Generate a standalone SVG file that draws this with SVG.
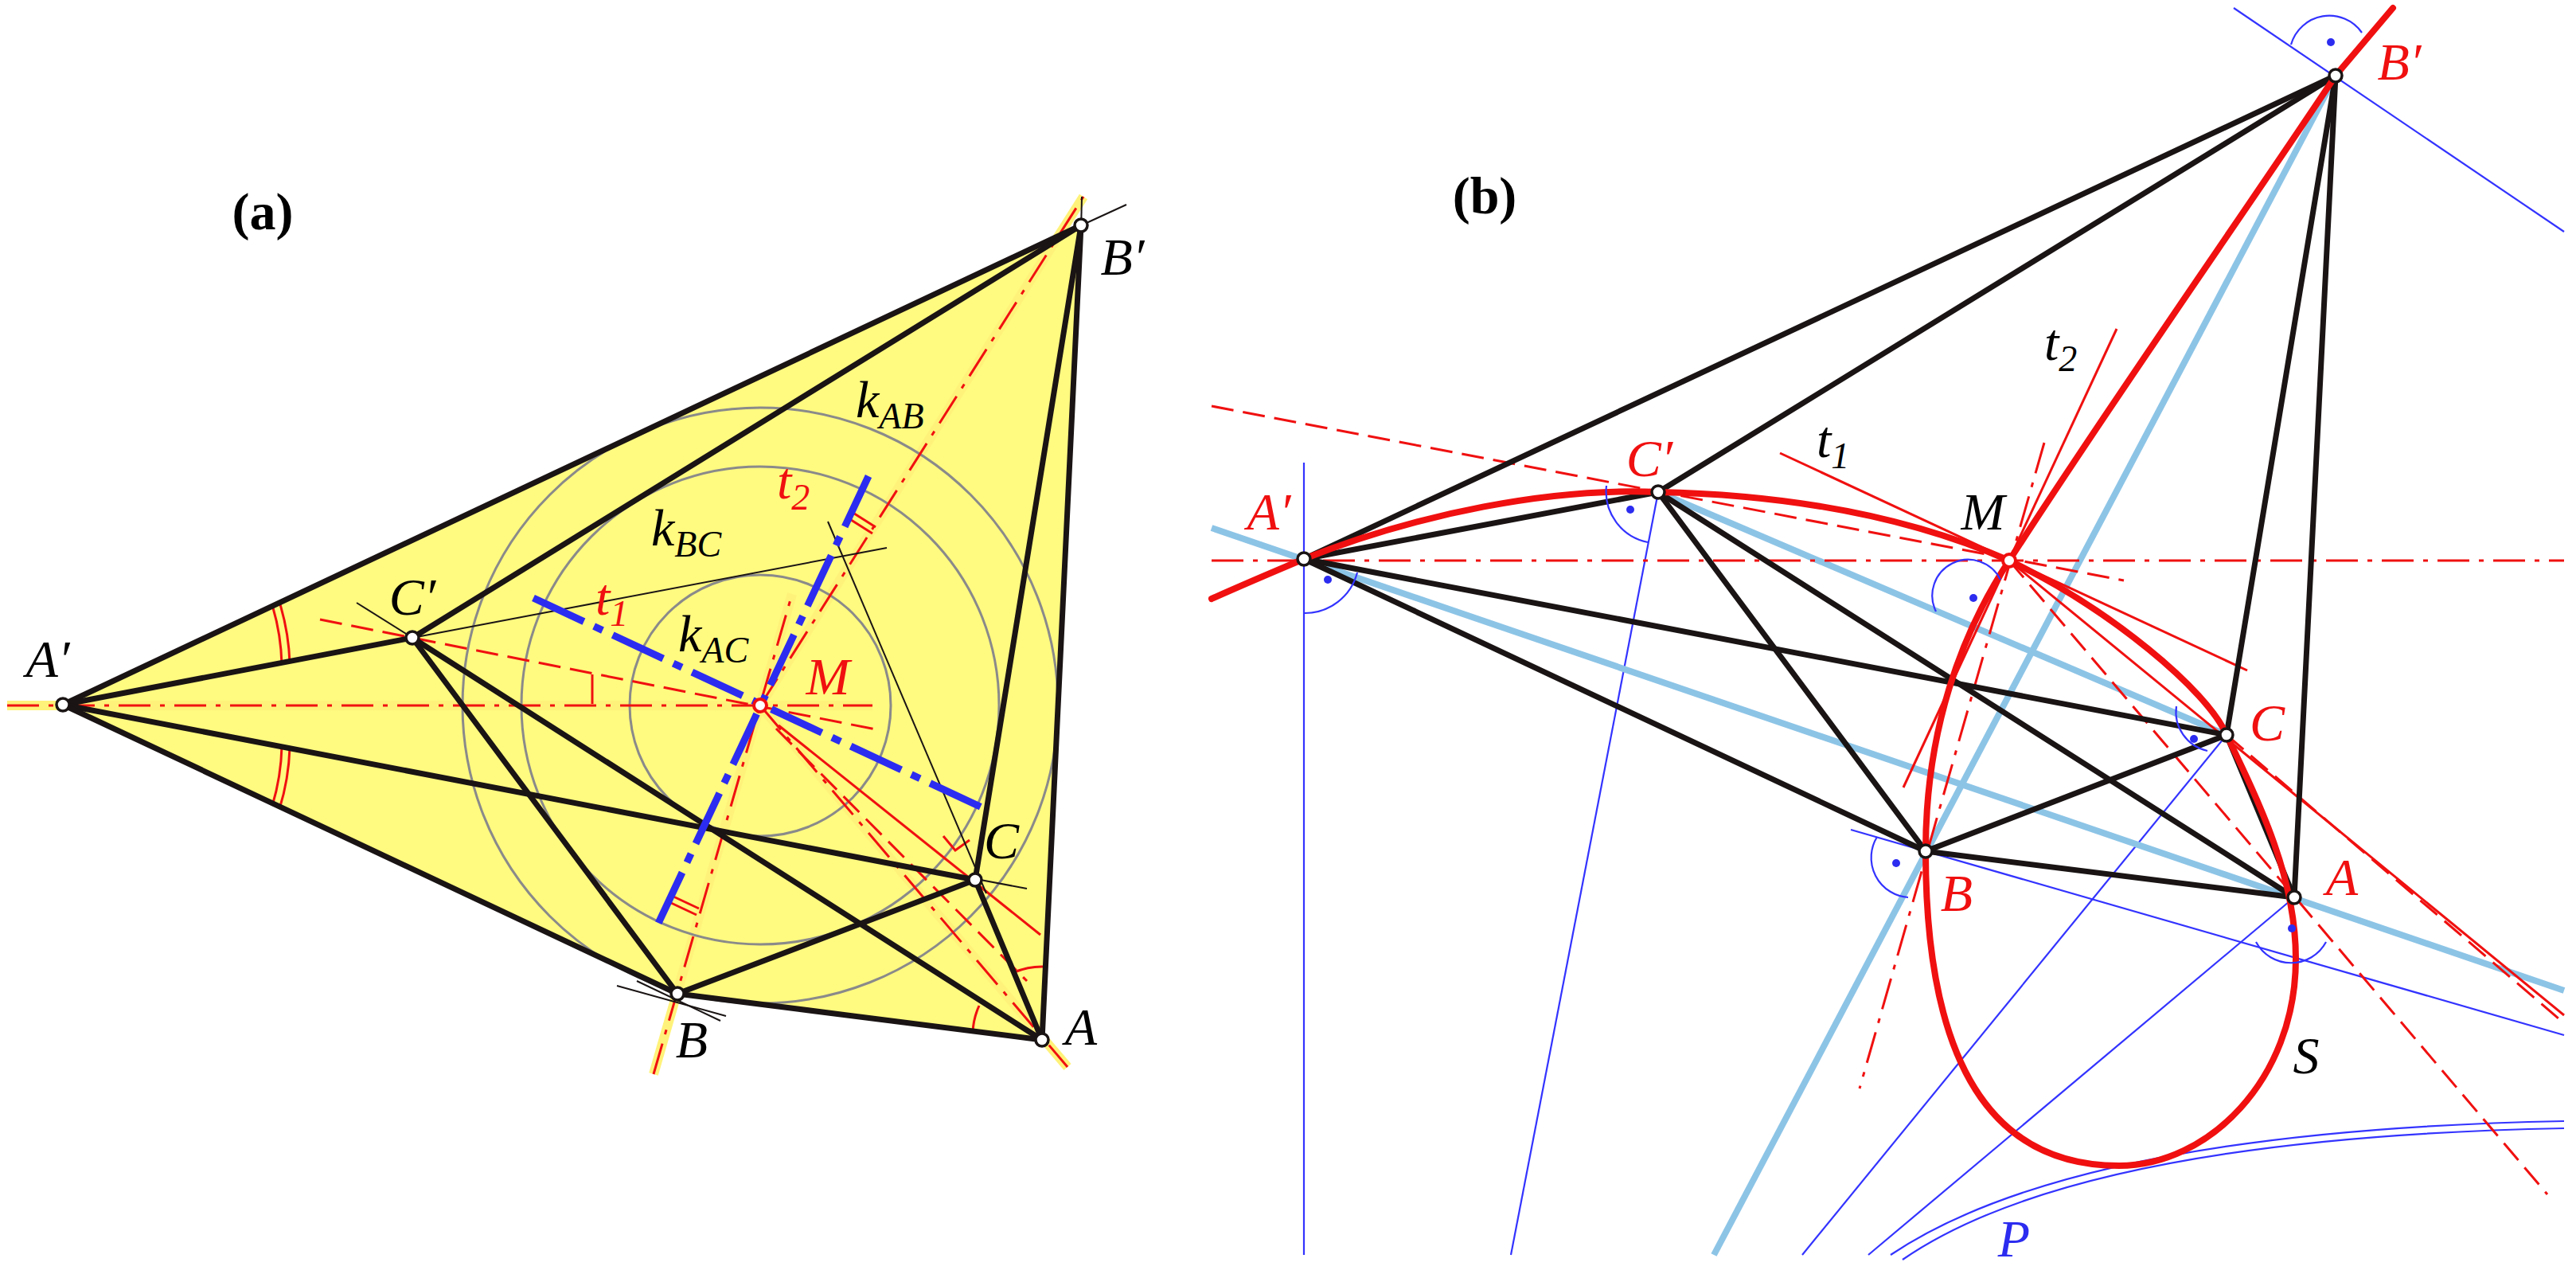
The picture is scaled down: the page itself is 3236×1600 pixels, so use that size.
<svg xmlns="http://www.w3.org/2000/svg" width="3236" height="1600" viewBox="0 0 3236 1600">
<style>
.bk{stroke:#1a1414;stroke-width:7;fill:none;stroke-linecap:round}
.tk{stroke:#1a1414;stroke-width:2;fill:none}
.gr{stroke:#8a8a8a;stroke-width:3;fill:none}
.rd{stroke:#f01010;stroke-width:3;fill:none}
.rdd{stroke:#f01010;stroke-width:3;fill:none;stroke-dasharray:40 12 6 12}
.rds{stroke:#f01010;stroke-width:3;fill:none;stroke-dasharray:28 12}
.yl{stroke:#fff27a;stroke-width:12;fill:none}
.bl{stroke:#2c2cf0;stroke-width:9;fill:none;stroke-dasharray:70 14 12 14}
.bt{stroke:#3333ff;stroke-width:2.2;fill:none}
.lb{stroke:#8cc4e6;stroke-width:8;fill:none}
.cv{stroke:#f01010;stroke-width:8;fill:none;stroke-linecap:round}
.nd{fill:#fff;stroke:#1a1414;stroke-width:3.5}
.ndm{fill:#fff;stroke:#f01010;stroke-width:4}
.dot{fill:#2c2cf0}
text{font-family:"Liberation Serif",serif;font-size:66px;font-style:italic}
.hd{font-style:normal;font-weight:bold;font-size:66px}
.r{fill:#f01010}
.b{fill:#2c2cf0}
</style>
<rect width="3236" height="1600" fill="#fff"/>
<g id="panel-a-fill"><polygon points="79,885 1358,283 1309,1306 851,1248" fill="#fffa80"/></g>
<g id="connectors-a">
<line class="yl" x1="9" y1="886" x2="1096" y2="886"/>
<line class="yl" x1="821" y1="1349" x2="995" y2="746"/>
<line class="yl" x1="955" y1="886" x2="1361" y2="247"/>
<line class="yl" x1="955" y1="886" x2="1341" y2="1340"/>
<circle class="gr" cx="955" cy="886" r="164"/>
<circle class="gr" cx="955" cy="886" r="300"/>
<circle class="gr" cx="955" cy="886" r="374"/>
<line class="rdd" x1="9" y1="886" x2="1096" y2="886"/>
<line class="rdd" x1="821" y1="1349" x2="995" y2="746"/>
<line class="rdd" x1="955" y1="886" x2="1361" y2="247"/>
<line class="rdd" x1="955" y1="886" x2="1341" y2="1340"/>
<line class="rds" x1="402" y1="778" x2="1100" y2="916"/>
<line class="rd" x1="978" y1="911" x2="1307" y2="1174"/>
<line class="rds" x1="975" y1="915" x2="1290" y2="1232"/>
<line class="rd" x1="744" y1="847" x2="744" y2="884"/>
<polyline class="rd" points="1185,1050 1200,1068 1218,1055"/>
<line class="rd" x1="1070" y1="643" x2="1100" y2="662"/>
<line class="rd" x1="1066" y1="651" x2="1096" y2="670"/>
<line class="rd" x1="846" y1="1126" x2="878" y2="1141"/>
<line class="rd" x1="843" y1="1134" x2="875" y2="1149"/>
<path class="rd" d="M342,760 A280,280 0 0 1 354,835"/>
<path class="rd" d="M351,756 A290,290 0 0 1 364,833"/>
<path class="rd" d="M354,937 A280,280 0 0 1 342,1012"/>
<path class="rd" d="M364,939 A290,290 0 0 1 351,1016"/>
<path class="rd" d="M1274,1221 A90,90 0 0 1 1313,1214"/>
<path class="rd" d="M1222,1296 A90,90 0 0 1 1230,1263"/>
<g class="bk">
<line x1="79" y1="885" x2="1358" y2="283"/>
<line x1="79" y1="885" x2="518" y2="801"/>
<line x1="518" y1="801" x2="1358" y2="283"/>
<line x1="79" y1="885" x2="1225" y2="1105"/>
<line x1="79" y1="885" x2="851" y2="1248"/>
<line x1="518" y1="801" x2="851" y2="1248"/>
<line x1="518" y1="801" x2="1309" y2="1306"/>
<line x1="851" y1="1248" x2="1225" y2="1105"/>
<line x1="851" y1="1248" x2="1309" y2="1306"/>
<line x1="1225" y1="1105" x2="1309" y2="1306"/>
<line x1="1358" y1="283" x2="1225" y2="1105"/>
<line x1="1358" y1="283" x2="1309" y2="1306"/>
</g>
<line class="tk" x1="448" y1="757" x2="590" y2="846"/>
<line class="tk" x1="518" y1="801" x2="1114" y2="688"/>
<line class="tk" x1="1040" y1="655" x2="1239" y2="1122"/>
<line class="tk" x1="1221" y1="1103" x2="1290" y2="1116"/>
<line class="tk" x1="775" y1="1238" x2="912" y2="1276"/>
<line class="tk" x1="800" y1="1232" x2="905" y2="1282"/>
<line class="tk" x1="1330" y1="296" x2="1415" y2="257"/>
<line class="tk" x1="1359" y1="247" x2="1358" y2="290"/>
<line class="bl" x1="670" y1="751" x2="1244" y2="1019"/>
<line class="bl" x1="1091" y1="598" x2="823" y2="1168"/>
</g>
<g id="nodes-a">
<circle class="nd" cx="79" cy="885" r="8"/>
<circle class="nd" cx="518" cy="801" r="8"/>
<circle class="nd" cx="1358" cy="283" r="8"/>
<circle class="nd" cx="1225" cy="1105" r="8"/>
<circle class="nd" cx="851" cy="1248" r="8"/>
<circle class="nd" cx="1309" cy="1306" r="8"/>
<circle class="ndm" cx="955" cy="886" r="8"/>
</g>
<g id="labels-a">
<text class="hd" x="330" y="288" text-anchor="middle">(a)</text>
<text x="60" y="850" text-anchor="middle">A′</text>
<text x="1410" y="345" text-anchor="middle">B′</text>
<text x="518" y="772" text-anchor="middle">C′</text>
<text x="1258" y="1078" text-anchor="middle">C</text>
<text x="869" y="1328" text-anchor="middle">B</text>
<text x="1358" y="1312" text-anchor="middle">A</text>
<text class="r" x="1040" y="872" text-anchor="middle">M</text>
<text x="1075" y="524">k<tspan font-size="46" dy="14">AB</tspan></text>
<text x="818" y="685">k<tspan font-size="46" dy="14">BC</tspan></text>
<text x="852" y="818">k<tspan font-size="46" dy="14">AC</tspan></text>
<text class="r" x="748" y="772">t<tspan font-size="46" dy="14">1</tspan></text>
<text class="r" x="976" y="626">t<tspan font-size="46" dy="14">2</tspan></text>
</g>
<g id="connectors-b">
<line class="bt" x1="1638" y1="581" x2="1638" y2="1576"/>
<line class="bt" x1="2083" y1="618" x2="1898" y2="1576"/>
<line class="bt" x1="2806" y1="10" x2="3221" y2="291"/>
<line class="bt" x1="2325" y1="1042" x2="3221" y2="1300"/>
<line class="bt" x1="2797" y1="923" x2="2264" y2="1576"/>
<line class="bt" x1="2882" y1="1127" x2="2347" y2="1576"/>
<path class="bt" d="M2375,1576 Q2607,1420 3221,1408"/>
<path class="bt" d="M2390,1582 Q2612,1429 3221,1417"/>
<line class="lb" x1="1522" y1="663" x2="3221" y2="1244"/>
<line class="lb" x1="2083" y1="618" x2="2790" y2="920"/>
<line class="lb" x1="2934" y1="95" x2="2153" y2="1576"/>
<line class="rdd" x1="1522" y1="704" x2="3221" y2="704" stroke-width="2"/>
<line class="rds" x1="1522" y1="510" x2="2668" y2="729" stroke-width="2"/>
<line class="rd" x1="2236" y1="569" x2="2823" y2="842" stroke-width="2.5"/>
<line class="rd" x1="2659" y1="413" x2="2391" y2="989" stroke-width="2.5"/>
<line class="rdd" x1="2568" y1="556" x2="2336" y2="1367" stroke-width="2"/>
<line class="rds" x1="2895" y1="153" x2="2524" y2="704" stroke-width="2"/>
<line class="rd" x1="2524" y1="704" x2="3221" y2="1275" stroke-width="2"/>
<line class="rds" x1="2797" y1="923" x2="3221" y2="1285" stroke-width="2"/>
<line class="rds" x1="2524" y1="704" x2="3200" y2="1500" stroke-width="2"/>
<g class="bk">
<line x1="1638" y1="702" x2="2934" y2="95"/>
<line x1="1638" y1="702" x2="2083" y2="618"/>
<line x1="2083" y1="618" x2="2934" y2="95"/>
<line x1="1638" y1="702" x2="2797" y2="923"/>
<line x1="1638" y1="702" x2="2419" y2="1069"/>
<line x1="2083" y1="618" x2="2419" y2="1069"/>
<line x1="2083" y1="618" x2="2882" y2="1127"/>
<line x1="2419" y1="1069" x2="2797" y2="923"/>
<line x1="2419" y1="1069" x2="2882" y2="1127"/>
<line x1="2797" y1="923" x2="2882" y2="1127"/>
<line x1="2934" y1="95" x2="2797" y2="923"/>
<line x1="2934" y1="95" x2="2882" y2="1127"/>
</g>
<path class="cv" d="M1522,752 C1560,735 1600,718 1638,702 C1780,645 1950,612 2083,618 C2275,622 2419,658 2524,704 C2651,765 2773,867 2797,923 C2839,1010 2884,1102 2884,1204 C2884,1357 2773,1464 2662,1464 C2496,1464 2419,1326 2419,1069 C2419,918 2463,796 2524,704 C2662,490 2828,255 2934,95 L3006,10"/>
<path class="bt" d="M1638,770 A68,68 0 0 0 1705,719"/>
<path class="bt" d="M2018,610 A65,65 0 0 0 2070,681"/>
<path class="bt" d="M2432,768 A45,45 0 0 1 2513,728"/>
<path class="bt" d="M2734,887 A50,50 0 0 0 2773,943"/>
<path class="bt" d="M2358,1051 A50,50 0 0 0 2397,1127"/>
<path class="bt" d="M2834,1183 A50,50 0 0 0 2922,1183"/>
<path class="bt" d="M2878,56 A50,50 0 0 1 2967,41"/>
<circle class="dot" cx="1668" cy="728" r="5"/>
<circle class="dot" cx="2048" cy="640" r="5"/>
<circle class="dot" cx="2479" cy="751" r="5"/>
<circle class="dot" cx="2756" cy="928" r="5"/>
<circle class="dot" cx="2382" cy="1084" r="5"/>
<circle class="dot" cx="2879" cy="1166" r="5"/>
<circle class="dot" cx="2928" cy="53" r="5"/>
</g>
<g id="nodes-b">
<circle class="nd" cx="1638" cy="702" r="8"/>
<circle class="nd" cx="2083" cy="618" r="8"/>
<circle class="nd" cx="2934" cy="95" r="8"/>
<circle class="nd" cx="2797" cy="923" r="8"/>
<circle class="nd" cx="2419" cy="1069" r="8"/>
<circle class="nd" cx="2882" cy="1127" r="8"/>
<circle class="ndm" cx="2524" cy="704" r="8"/>
</g>
<g id="labels-b">
<text class="hd" x="1865" y="268" text-anchor="middle">(b)</text>
<text class="r" x="1594" y="665" text-anchor="middle">A′</text>
<text class="r" x="2072" y="598" text-anchor="middle">C′</text>
<text class="r" x="3014" y="100" text-anchor="middle">B′</text>
<text class="r" x="2848" y="930" text-anchor="middle">C</text>
<text class="r" x="2458" y="1144" text-anchor="middle">B</text>
<text class="r" x="2942" y="1124" text-anchor="middle">A</text>
<text x="2491" y="665" text-anchor="middle">M</text>
<text x="2282" y="574">t<tspan font-size="46" dy="14">1</tspan></text>
<text x="2568" y="452">t<tspan font-size="46" dy="14">2</tspan></text>
<text x="2897" y="1348" text-anchor="middle">S</text>
<text class="b" x="2530" y="1578" text-anchor="middle">P</text>
</g>
</svg>
